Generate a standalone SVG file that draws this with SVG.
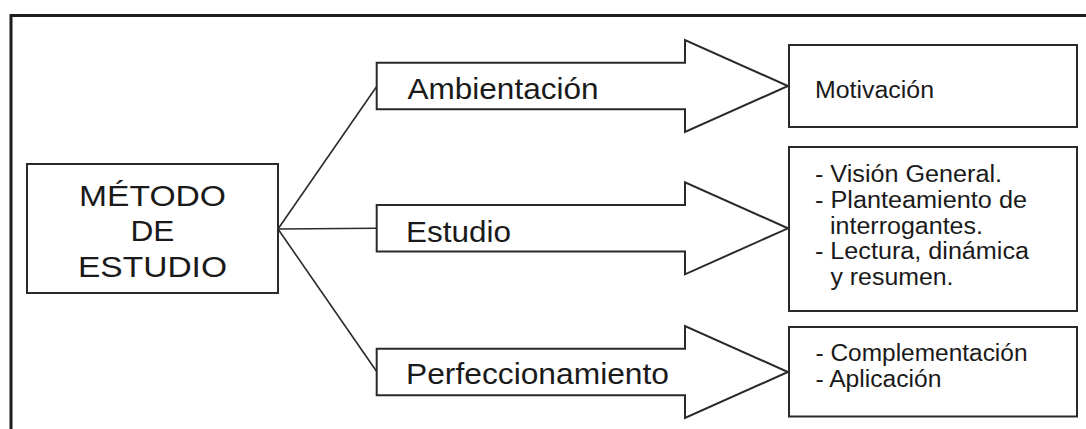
<svg xmlns="http://www.w3.org/2000/svg" width="1086" height="429" viewBox="0 0 1086 429">
  <defs>
    <style>
      .box { fill: #ffffff; stroke: #2a2a2a; stroke-width: 2; }
      .arrow { fill: #ffffff; stroke: #2a2a2a; stroke-width: 2; stroke-linejoin: miter; }
      .conn { fill: none; stroke: #2a2a2a; stroke-width: 1.6; }
      .frame { fill: none; stroke: #1e1e1e; stroke-width: 3; }
      .big { font-family: "Liberation Sans", Arial, sans-serif; font-size: 30px; fill: #1a1a1a; }
      .lbl { font-family: "Liberation Sans", Arial, sans-serif; font-size: 30px; fill: #1a1a1a; }
      .sm { font-family: "Liberation Sans", Arial, sans-serif; font-size: 23.5px; fill: #1a1a1a; }
    </style>
    <path id="arrowShape" d="M0,-23.3 H308.3 V-46 L411.3,0 L308.3,46 V23.3 H0 Z"/>
  </defs>

  <rect x="0" y="0" width="1086" height="429" fill="#ffffff"/>
  <path class="frame" d="M11,429 V15.5 H1086"/>

  <g id="connectors">
    <line class="conn" x1="278" y1="229" x2="377" y2="86"/>
    <line class="conn" x1="278" y1="229" x2="377" y2="228.3"/>
    <line class="conn" x1="278" y1="229" x2="377" y2="372"/>
  </g>

  <g id="metodo">
    <rect class="box" x="27" y="164" width="251" height="129"/>
    <text class="big" x="152.5" y="205.5" text-anchor="middle" textLength="147" lengthAdjust="spacingAndGlyphs">MÉTODO</text>
    <text class="big" x="152.5" y="241" text-anchor="middle" textLength="44" lengthAdjust="spacingAndGlyphs">DE</text>
    <text class="big" x="152.5" y="276.5" text-anchor="middle" textLength="149" lengthAdjust="spacingAndGlyphs">ESTUDIO</text>
  </g>

  <g id="ambientacion">
    <use href="#arrowShape" class="arrow" transform="translate(376.7,86)"/>
    <text class="lbl" x="407.5" y="98.5" textLength="191" lengthAdjust="spacingAndGlyphs">Ambientación</text>
  </g>

  <g id="estudio">
    <use href="#arrowShape" class="arrow" transform="translate(376.7,228.3)"/>
    <text class="lbl" x="406" y="241.5" textLength="105" lengthAdjust="spacingAndGlyphs">Estudio</text>
  </g>

  <g id="perfeccionamiento">
    <use href="#arrowShape" class="arrow" transform="translate(376.7,372)"/>
    <text class="lbl" x="406" y="383.5" textLength="263" lengthAdjust="spacingAndGlyphs">Perfeccionamiento</text>
  </g>

  <g id="motivacion">
    <rect class="box" x="789" y="45" width="288" height="82"/>
    <text class="sm" x="815" y="98.3" textLength="119" lengthAdjust="spacingAndGlyphs">Motivación</text>
  </g>

  <g id="vision">
    <rect class="box" x="789" y="147" width="288" height="164"/>
    <text class="sm" x="815" y="182.3" textLength="187" lengthAdjust="spacingAndGlyphs">- Visión General.</text>
    <text class="sm" x="815" y="208" textLength="212" lengthAdjust="spacingAndGlyphs">- Planteamiento de</text>
    <text class="sm" x="830" y="233.7" textLength="153" lengthAdjust="spacingAndGlyphs">interrogantes.</text>
    <text class="sm" x="815" y="259" textLength="214" lengthAdjust="spacingAndGlyphs">- Lectura, dinámica</text>
    <text class="sm" x="830.5" y="284.5" textLength="123" lengthAdjust="spacingAndGlyphs">y resumen.</text>
  </g>

  <g id="complementacion">
    <rect class="box" x="789" y="327" width="288" height="89.5"/>
    <text class="sm" x="815.5" y="361" textLength="212" lengthAdjust="spacingAndGlyphs">- Complementación</text>
    <text class="sm" x="815.5" y="387" textLength="126" lengthAdjust="spacingAndGlyphs">- Aplicación</text>
  </g>
</svg>
